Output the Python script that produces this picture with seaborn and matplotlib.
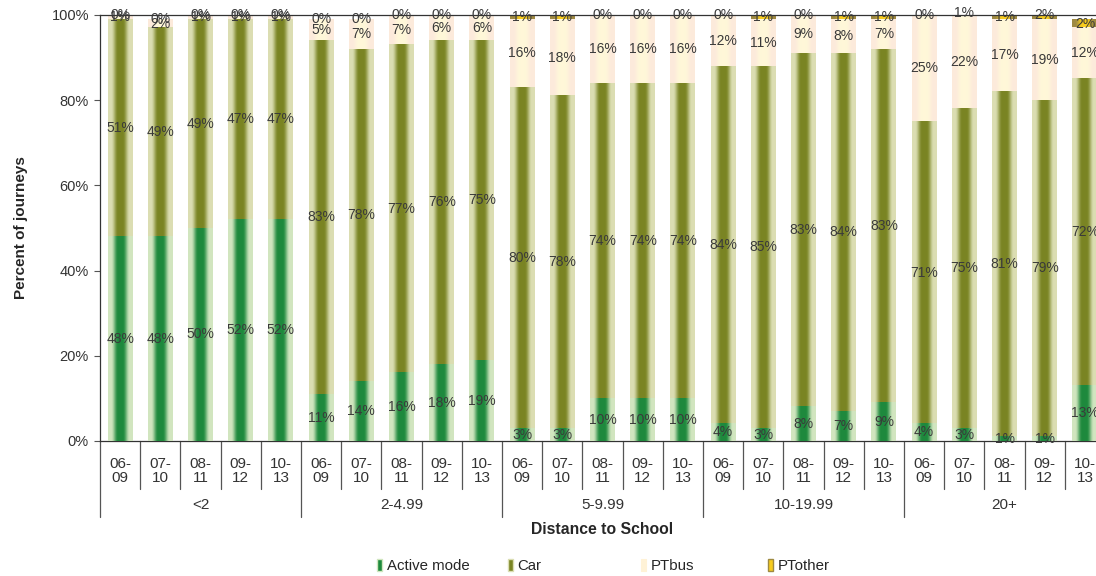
import numpy as np
import pandas as pd
import matplotlib
matplotlib.use("Agg")
import matplotlib.pyplot as plt
import seaborn as sns
from matplotlib.patches import Patch
from matplotlib.transforms import blended_transform_factory

# ---------------- data ----------------
distances = ["<2", "2-4.99", "5-9.99", "10-19.99", "20+"]
periods = ["06-09", "07-10", "08-11", "09-12", "10-13"]
modes = ["Active mode", "Car", "PTbus", "PTother"]
active = [48, 48, 50, 52, 52, 11, 14, 16, 18, 19, 3, 3, 10, 10, 10, 4, 3, 8, 7, 9, 4, 3, 1, 1, 13]
car = [51, 49, 49, 47, 47, 83, 78, 77, 76, 75, 80, 78, 74, 74, 74, 84, 85, 83, 84, 83, 71, 75, 81, 79, 72]
ptbus = [1, 2, 1, 1, 1, 5, 7, 7, 6, 6, 16, 18, 16, 16, 16, 12, 11, 9, 8, 7, 25, 22, 17, 19, 12]
ptother = [0, 0, 0, 0, 0, 0, 0, 0, 0, 0, 1, 1, 0, 0, 0, 0, 1, 0, 1, 1, 0, 1, 1, 2, 2]

# colours: (edge, centre) of the horizontal gradient in each bar
grad_cols = {
    "Active mode": ((0.82, 0.90, 0.75), (0.12, 0.54, 0.24)),
    "Car": ((0.86, 0.87, 0.70), (0.48, 0.52, 0.14)),
    "PTbus": ((0.99, 0.92, 0.86), (1.00, 0.97, 0.85)),
    "PTother": ((0.62, 0.54, 0.26), (0.97, 0.80, 0.12)),
}

sns.set_theme(style="white")
plt.rcParams["font.family"] = ["Liberation Sans", "DejaVu Sans"]

keys = [f"{d}|{p}" for d in distances for p in periods]
df = pd.DataFrame({
    "key": keys,
    "Active mode": active, "Car": car, "PTbus": ptbus, "PTother": ptother,
})
cum = df[modes].cumsum(axis=1)
bottoms = cum - df[modes]

fig = plt.figure(figsize=(10.96, 5.76), dpi=100)
ax = fig.add_axes([100 / 1096, 1 - 441 / 576, 1005 / 1096, 426 / 576])


def gradient(edge, centre, n=48):
    u = np.linspace(0, 1, n)
    d = np.abs(2 * u - 1)
    s = np.clip((0.76 - d) / 0.56, 0, 1)
    t = s * s * (3 - 2 * s)
    e = np.array(edge)
    c = np.array(centre)
    return (e[None, :] + (c - e)[None, :] * t[:, None])[None, :, :]


# draw cumulative layers, tallest first
for z, mode in enumerate(reversed(modes)):
    tmp = pd.DataFrame({"key": keys, "val": cum[mode].values})
    before = len(ax.patches)
    sns.barplot(data=tmp, x="key", y="val", order=keys, color=grad_cols[mode][1],
                width=0.62, ax=ax, zorder=1 + z, errorbar=None, linewidth=0)
    img = gradient(*grad_cols[mode])
    for p in ax.patches[before:]:
        x0, y0 = p.get_x(), p.get_y()
        w, h = p.get_width(), p.get_height()
        if h > 0:
            ax.imshow(img, extent=[x0, x0 + w, y0, y0 + h], aspect="auto",
                      zorder=1 + z, interpolation="bilinear")
        p.set_visible(False)

# value labels
for mode in modes:
    for i in range(len(keys)):
        v = df[mode].iloc[i]
        mid = bottoms[mode].iloc[i] + v / 2
        ax.text(i, mid, f"{v}%", ha="center", va="center", fontsize=10,
                color="#3a3a3a", zorder=20)

ax.set_xlim(-0.5, len(keys) - 0.5)
ax.set_ylim(0, 100)
ax.set_yticks(np.arange(0, 101, 20))
ax.set_yticklabels([f"{v}%" for v in range(0, 101, 20)], fontsize=10.5, color="#333333")
ax.tick_params(axis="y", direction="out", length=4, width=0.8, color="#555555", left=True, pad=4)
ax.set_xticks([])
ax.set_xlabel("")
ax.set_ylabel("Percent of journeys", fontsize=11, fontweight="bold")
ax.yaxis.set_label_coords(-72 / 1005, 0.5)
for s in ["left", "bottom", "top"]:
    ax.spines[s].set_visible(True)
    ax.spines[s].set_color("#333333")
    ax.spines[s].set_linewidth(0.9)
ax.spines["right"].set_visible(False)

# multi-level category axis
tr = blended_transform_factory(ax.transData, ax.transAxes)
short = -(489 - 441) / 426
long_ = -(517 - 441) / 426
for i, k in enumerate(keys):
    p = periods[i % len(periods)]
    a, b = p.split("-")
    ax.text(i, -30 / 426, f"{a}-\n{b}", transform=tr, ha="center", va="center",
            fontsize=11, color="#333333", linespacing=1.0)
ax.plot([-0.5, -0.5], [0, long_], transform=tr, color="#555555", lw=0.9, clip_on=False)
for i in range(1, len(keys)):
    y1 = long_ if i % len(periods) == 0 else short
    ax.plot([i - 0.5, i - 0.5], [0, y1], transform=tr, color="#555555", lw=0.9, clip_on=False)
for g, d in enumerate(distances):
    xc = g * len(periods) + (len(periods) - 1) / 2
    ax.text(xc, -64 / 426, d, transform=tr, ha="center", va="center", fontsize=11,
            color="#333333")
fig.text(602 / 1096, 1 - 529 / 576, "Distance to School", ha="center", va="center",
         fontsize=11.3, fontweight="bold")

# legend: four evenly spaced entries
leg_x = [377, 508, 641, 768]
for m, xp in zip(modes, leg_x):
    edge, centre = grad_cols[m]
    if m == "PTbus":
        h = Patch(facecolor=(1.0, 0.95, 0.84), edgecolor=(1.0, 0.95, 0.84), linewidth=0.8)
    else:
        h = Patch(facecolor=centre, edgecolor=edge, linewidth=1.0)
    fig.legend([h], [m], loc="center left", bbox_to_anchor=(xp / 1096, 1 - 566 / 576),
               frameon=False, fontsize=10.8, handlelength=0.35, handleheight=0.85,
               handletextpad=0.3, borderpad=0, borderaxespad=0)

fig.savefig("out.png", dpi=100)
